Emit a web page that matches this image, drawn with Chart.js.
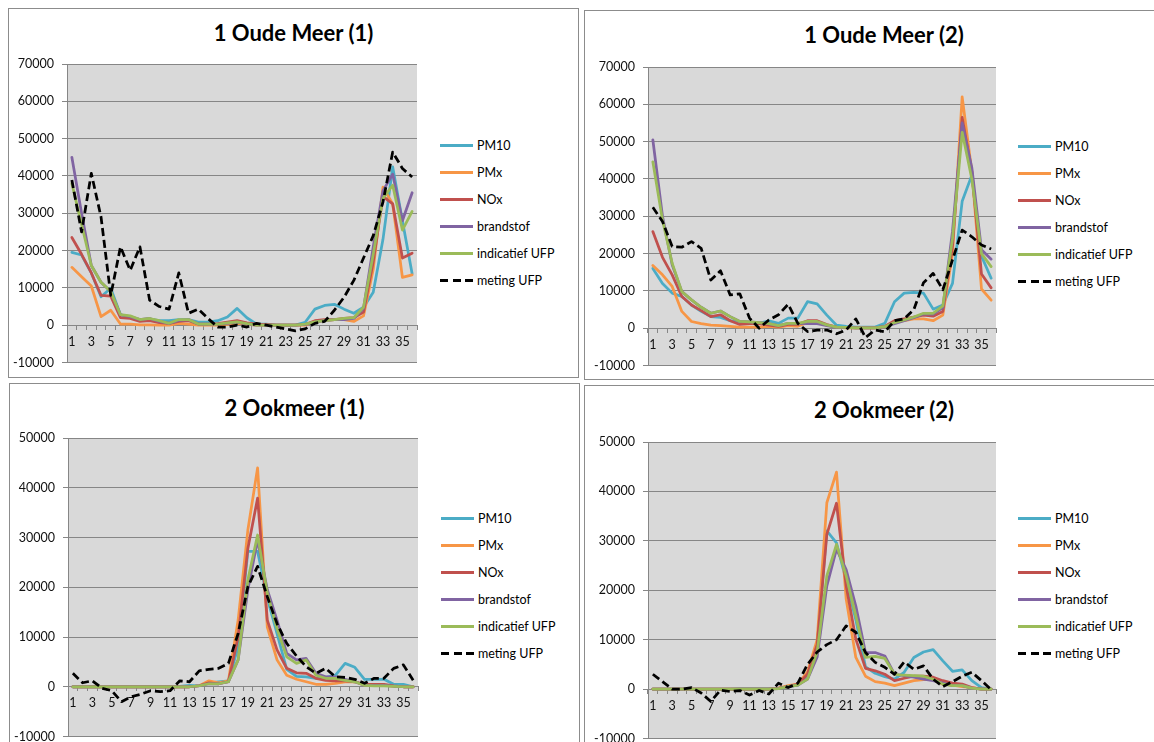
<!DOCTYPE html>
<html>
<head>
<meta charset="utf-8">
<script src="https://cdn.jsdelivr.net/npm/chart.js@4.4.0/dist/chart.umd.min.js"></script>
<style>
    body { margin: 0; background: #fff; width: 1154px; height: 742px; overflow: hidden; position: relative; font-family: Lato, sans-serif; }
    .panel { position: absolute; border: 1px solid #8c8c8c; background: #fff; box-sizing: border-box; }
    .title { position: absolute; left: 0; right: 0; text-align: center; font-weight: bold; font-size: 22px; color: #000; line-height: 24px; }
    canvas { position: absolute; }
    .legend { position: absolute; margin: 0; padding: 0; list-style: none; }
    .legend li { display: flex; align-items: center; height: 27px; font-size: 12.5px; color: #000; }
</style>
</head>
<body>
<script>
// categories 1..36
const labels = ['1','2','3','4','5','6','7','8','9','10','11','12','13','14','15','16','17','18',
    '19','20','21','22','23','24','25','26','27','28','29','30','31','32','33','34','35','36'];

const seriesNames = ['PM10', 'PMx', 'NOx', 'brandstof', 'indicatief UFP', 'meting UFP'];
const seriesColors = ['#4BACC6', '#F79646', '#C0504D', '#8064A2', '#9BBB59', '#000000'];

const titles = ['1 Oude Meer (1)', '1 Oude Meer (2)', '2 Ookmeer (1)', '2 Ookmeer (2)'];
const yMax = [70000, 70000, 50000, 50000];
const yMin = -10000;

// 1 Oude Meer (1)
const om1_pm10 = [19500,18800,14000,7600,9900,2800,2200,1500,1600,1200,1200,1500,1500,800,800,1200,2200,4500,2000,300,300,0,0,0,800,4300,5300,5600,4300,3200,4800,8800,23000,42400,28000,13800];
const om1_pmx = [15500,13000,10500,2300,4000,300,300,100,100,0,0,500,300,0,0,0,200,500,200,0,0,0,0,0,0,1000,1200,1500,1500,1000,2500,15000,37000,32500,12800,13500];
const om1_nox = [23500,19000,14000,8000,7800,2000,1800,1000,1200,700,500,1000,1200,300,300,400,800,1200,600,300,200,0,0,0,200,1200,1500,1500,1800,2000,3500,17000,34500,32500,18000,19300];
const om1_brandstof = [45000,30000,16000,11500,9000,2800,2300,1500,1800,1000,500,1300,1500,300,300,300,500,800,300,0,0,0,0,0,200,800,1200,1500,1500,1800,4500,21000,36000,40500,28000,35500];
const om1_indicatief = [38000,27000,16000,11500,9000,2800,2500,1500,1800,1200,500,1500,1500,300,300,300,600,900,400,0,0,0,0,0,300,900,1200,1500,1800,2000,4800,19000,34000,37500,25500,30500];
const om1_meting = [38900,25000,40700,29000,8000,21000,14700,21000,6700,5000,4300,14000,3200,4300,1800,-500,-500,0,-500,500,0,-500,-1000,-1500,-1000,500,1000,4000,7500,12000,18000,24000,33000,46400,42000,39700];

// 1 Oude Meer (2)
const om2_pm10 = [16000,12000,9400,8500,6200,4500,3100,2900,2000,1500,1300,1300,2000,1300,2700,2700,7100,6500,3500,800,500,300,300,300,1300,7100,9400,9600,9400,5100,6200,12000,34000,41000,19300,13400];
const om2_pmx = [16800,14300,11200,4500,1800,1200,800,700,500,300,300,300,500,300,700,500,1500,1500,800,300,100,100,100,100,400,1800,2000,2500,2500,2000,3500,20000,62000,42000,10500,7500];
const om2_nox = [25900,19000,14300,8500,6200,4700,3100,3600,2000,1000,1200,1200,800,500,1000,1000,2000,2000,1000,300,200,100,100,100,500,2000,2500,3000,3500,3200,4500,22000,56500,42000,14500,10800];
const om2_brandstof = [50500,30000,17000,9800,7600,5600,4000,4600,3100,1800,1700,1500,1200,700,1300,1300,1200,1200,700,200,200,100,100,100,400,1200,2000,2800,3800,3800,5500,26000,55000,43000,21000,18500];
const om2_indicatief = [44600,29000,17400,9800,7600,5600,4000,4600,3100,1800,1700,1500,1200,700,1300,1300,1800,1800,900,300,200,100,100,100,400,1500,2200,3000,4000,4000,6000,24000,52500,40000,20000,16500];
const om2_meting = [32400,28600,21900,21700,23200,21400,12900,15400,8900,9200,2700,0,2200,3600,6400,1300,-900,-500,-500,-1500,-500,2500,-2500,-500,-1000,2000,2500,5000,12200,14700,10300,18300,26300,24500,22300,21200];

// 2 Ookmeer (1)
const ok1_pm10 = [0,0,0,0,0,0,0,0,0,0,0,100,300,200,800,1000,1200,8000,27200,27200,17800,10700,3500,2100,2000,1700,1900,2300,4700,3900,1500,1500,1500,500,500,0];
const ok1_pmx = [0,0,0,0,0,0,0,0,0,0,0,0,0,200,1200,800,1200,13400,31500,44000,12000,5400,2300,1500,1000,500,500,700,1000,1000,300,300,300,100,0,0];
const ok1_nox = [0,0,0,0,0,0,0,0,0,0,0,0,0,200,800,600,1000,10000,27800,37900,13400,7400,3700,2800,2700,1700,1300,1200,1200,1000,500,500,500,200,0,0];
const ok1_brandstof = [0,0,0,0,0,0,0,0,0,0,0,0,0,200,600,600,1000,5400,19500,29500,19500,13400,6700,5400,5700,2700,2000,2000,1500,1000,300,300,300,100,0,0];
const ok1_indicatief = [0,0,0,0,0,0,0,0,0,0,0,0,0,200,600,600,1000,5400,21500,30500,18800,11700,6000,4700,5400,2300,1700,1700,1300,1000,300,200,200,100,0,0];
const ok1_meting = [2700,800,1200,-300,-800,-3000,-2000,-1500,-800,-1000,-800,1200,1000,3200,3500,3700,4700,10700,20100,24200,18100,12700,8700,6200,4000,2700,3700,2000,1900,1500,700,1700,1700,3700,4400,1300];

// 2 Ookmeer (2)
const ok2_pm10 = [0,0,0,0,0,0,0,0,0,100,100,100,100,100,500,800,2500,9000,32000,29600,22000,14000,4500,3200,2500,2000,3400,6400,7500,8000,5700,3600,3900,1700,300,0];
const ok2_pmx = [0,0,0,0,0,0,0,0,0,0,0,0,0,200,700,1000,3500,10000,37700,43900,18200,6400,2600,1500,1200,700,1200,1700,1900,1900,1000,800,500,300,0,0];
const ok2_nox = [0,0,0,0,0,0,0,0,0,0,0,0,0,200,500,1000,3000,9000,31300,37600,20900,10100,4200,3700,3000,1700,2200,2600,2600,2400,1700,1200,1000,300,0,0];
const ok2_brandstof = [0,0,0,0,0,0,0,0,0,0,0,0,0,100,500,800,2000,6500,20900,28300,24200,16800,7400,7400,6700,3000,2700,2400,2000,1700,1200,700,700,200,0,0];
const ok2_indicatief = [0,0,0,0,0,0,0,0,0,0,0,0,0,100,500,800,2000,7500,22900,29300,22900,14800,6400,6600,6200,3000,2800,2700,2600,2000,1000,700,700,200,0,0];
const ok2_meting = [3000,1500,0,0,300,-800,-2500,-200,-500,-300,-1200,-300,-1000,1200,300,1200,5000,7500,9000,10000,12800,11500,7400,5400,4400,3000,5500,4000,4700,2000,500,1500,2600,3400,1700,-100];

const panelData = [
    [om1_pm10, om1_pmx, om1_nox, om1_brandstof, om1_indicatief, om1_meting],
    [om2_pm10, om2_pmx, om2_nox, om2_brandstof, om2_indicatief, om2_meting],
    [ok1_pm10, ok1_pmx, ok1_nox, ok1_brandstof, ok1_indicatief, ok1_meting],
    [ok2_pm10, ok2_pmx, ok2_nox, ok2_brandstof, ok2_indicatief, ok2_meting]
];

// page layout of the four chart boxes
const boxes = [
    {left: 8,   top: 8,   width: 571, height: 370, plotX: 67,  plotY: 64,  plotW: 350, plotH: 298, legX: 440,  legY: 132},
    {left: 584, top: 10,  width: 600, height: 370, plotX: 648, plotY: 67,  plotW: 348, plotH: 298, legX: 1018, legY: 133},
    {left: 9,   top: 383, width: 571, height: 400, plotX: 68,  plotY: 438, plotW: 350, plotH: 298, legX: 441,  legY: 505},
    {left: 584, top: 385, width: 600, height: 400, plotX: 648, plotY: 442, plotW: 348, plotH: 296, legX: 1018, legY: 505}
];

const plotBackground = {
    id: 'plotBackground',
    beforeDraw(chart) {
        const {ctx, chartArea} = chart;
        ctx.save();
        ctx.fillStyle = '#D9D9D9';
        ctx.fillRect(chartArea.left, chartArea.top, chartArea.width, chartArea.height);
        ctx.restore();
    }
};

const tickFont = {family: 'Lato, sans-serif', size: 12.5};
const axisGray = '#868686';
const yAxisW = 60;

boxes.forEach((b, p) => {
    const panel = document.createElement('div');
    panel.className = 'panel';
    panel.style.left = b.left + 'px';
    panel.style.top = b.top + 'px';
    panel.style.width = b.width + 'px';
    panel.style.height = b.height + 'px';
    document.body.appendChild(panel);

    const title = document.createElement('div');
    title.className = 'title';
    title.style.top = '12px';
    title.textContent = titles[p];
    panel.appendChild(title);

    // chart.js keeps ~16px under the plot for the lowest y label, so leave that room
    const canvas = document.createElement('canvas');
    const padTop = 20, roomBottom = 16, padRight = 6;
    canvas.width = b.plotW + yAxisW + padRight;
    canvas.height = b.plotH + padTop + roomBottom;
    canvas.style.left = (b.plotX - yAxisW) + 'px';
    canvas.style.top = (b.plotY - padTop) + 'px';
    document.body.appendChild(canvas);

    const datasets = seriesNames.map((name, i) => ({
        label: name,
        data: panelData[p][i],
        borderColor: seriesColors[i],
        backgroundColor: seriesColors[i],
        borderWidth: 2.75,
        borderDash: i === 5 ? [8, 4] : [],
        borderCapStyle: i === 5 ? 'butt' : 'round',
        borderJoinStyle: 'round',
        pointRadius: 0,
        tension: 0,
        fill: false,
        order: seriesNames.length - 1 - i
    }));

    new Chart(canvas.getContext('2d'), {
        type: 'line',
        data: {labels: labels, datasets: datasets},
        options: {
            responsive: false,
            animation: false,
            layout: {padding: {top: padTop, bottom: 0, right: padRight, left: 0}},
            plugins: {legend: {display: false}, title: {display: false}, tooltip: {enabled: false}},
            scales: {
                x: {
                    position: {y: 0},
                    offset: true,
                    grid: {offset: true, drawOnChartArea: false, drawTicks: true, tickLength: 4, color: axisGray},
                    border: {display: true, color: axisGray, width: 1},
                    ticks: {
                        autoSkip: false, maxRotation: 0, minRotation: 0, padding: 5,
                        color: '#111', font: tickFont,
                        callback: (v, idx) => idx % 2 === 0 ? labels[idx] : ''
                    }
                },
                y: {
                    min: yMin,
                    max: yMax[p],
                    afterFit: (scale) => { scale.width = yAxisW; },
                    grid: {color: axisGray, lineWidth: 1, tickLength: 5},
                    border: {display: true, color: axisGray, width: 1},
                    ticks: {stepSize: 10000, padding: 8, color: '#111', font: tickFont, callback: v => String(v)}
                }
            }
        },
        plugins: [plotBackground]
    });

    // legend
    const ul = document.createElement('ul');
    ul.className = 'legend';
    ul.style.left = b.legX + 'px';
    ul.style.top = b.legY + 'px';
    seriesNames.forEach((name, i) => {
        const li = document.createElement('li');
        const sw = document.createElement('span');
        sw.style.display = 'inline-flex';
        sw.style.width = '33px';
        sw.style.height = '3px';
        sw.style.marginRight = '4px';
        if (i === 5) {
            sw.style.justifyContent = 'space-between';
            for (let k = 0; k < 3; k++) {
                const d = document.createElement('span');
                d.style.width = '8px';
                d.style.height = '3px';
                d.style.background = seriesColors[i];
                sw.appendChild(d);
            }
        } else {
            sw.style.background = seriesColors[i];
        }
        li.appendChild(sw);
        li.appendChild(document.createTextNode(name));
        ul.appendChild(li);
    });
    document.body.appendChild(ul);
});
</script>
</body>
</html>
